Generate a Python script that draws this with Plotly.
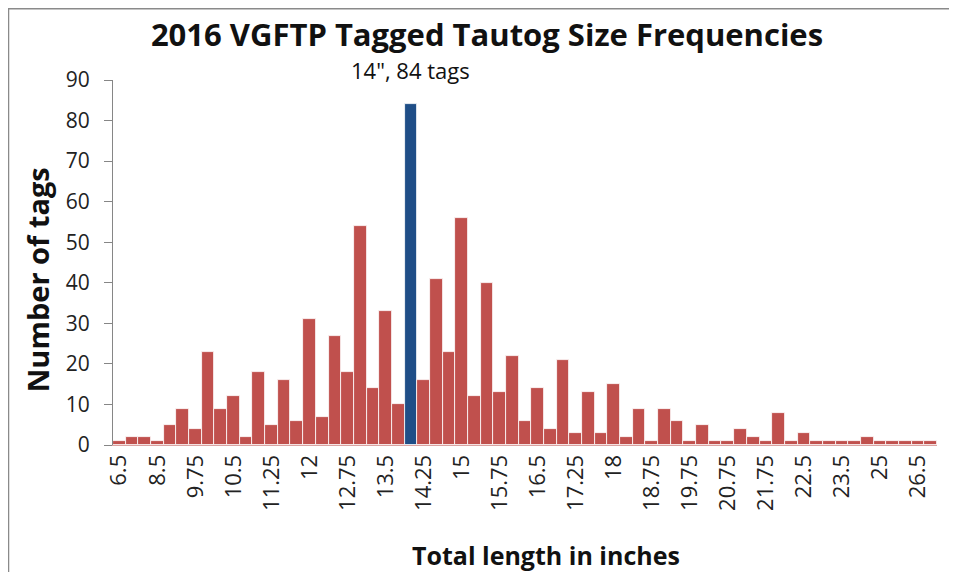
import plotly.graph_objects as go

# Size classes (inches) and tag counts
lengths = [
    "6.5", "7.5", "8", "8.5", "9", "9.5", "9.75", "10", "10.25", "10.5",
    "10.75", "11", "11.25", "11.5", "11.75", "12", "12.25", "12.5", "12.75", "13",
    "13.25", "13.5", "13.75", "14", "14.25", "14.5", "14.75", "15", "15.25", "15.5",
    "15.75", "16", "16.25", "16.5", "16.75", "17", "17.25", "17.5", "17.75", "18",
    "18.25", "18.5", "18.75", "19", "19.25", "19.75", "20", "20.5", "20.75", "21",
    "21.25", "21.75", "22", "22.25", "22.5", "23", "23.25", "23.5", "24", "24.5",
    "25", "25.5", "26", "26.5", "27",
]
tags = [
    1, 2, 2, 1, 5, 9, 4, 23, 9, 12,
    2, 18, 5, 16, 6, 31, 7, 27, 18, 54,
    14, 33, 10, 84, 16, 41, 23, 56, 12, 40,
    13, 22, 6, 14, 4, 21, 3, 13, 3, 15,
    2, 9, 1, 9, 6, 1, 5, 1, 1, 4,
    2, 1, 8, 1, 3, 1, 1, 1, 1, 2,
    1, 1, 1, 1, 1,
]
peak_length = "14"
tick_labels = lengths[::3]

FONT = "Open Sans"
RED = "#C0504D"
BLUE = "#1F4E87"

colors = [BLUE if l == peak_length else RED for l in lengths]
peak_idx = lengths.index(peak_length)
peak_value = tags[peak_idx]

# the page body adds an 8px margin, so the figure is sized to fit inside it
W, H = 941, 564

fig = go.Figure(go.Bar(
    x=lengths,
    y=tags,
    marker=dict(color=colors, line=dict(color="white", width=0.8)),
))

# Callout above the peak bar (category index, since "14" would be read as an index)
fig.add_annotation(
    x=peak_idx, y=peak_value,
    text=f'{peak_length}", {peak_value} tags',
    showarrow=False, xanchor="center", yanchor="bottom", yshift=17,
    font=dict(family=FONT, size=22, color="#111"),
)

# Axis titles placed by hand to follow the original layout
fig.add_annotation(
    x=0.5255, y=-0.301, xref="paper", yref="paper",
    xanchor="center", yanchor="middle",
    text="<b>Total length in inches</b>", showarrow=False,
    font=dict(family=FONT, size=25, color="#111"),
)
fig.add_annotation(
    x=-0.092, y=0.452, xref="paper", yref="paper",
    xanchor="center", yanchor="middle",
    text="<b>Number of tags</b>", showarrow=False, textangle=-90,
    font=dict(family=FONT, size=29, color="#111"),
)

# Outer chart frame (left and top edges; the rest runs off the picture)
fig.add_shape(
    type="path", xref="paper", yref="paper",
    path="M -0.1268,-0.45 L -0.1268,1.195 L 1.05,1.195",
    line=dict(color="#8a8a8a", width=1.5),
)

fig.update_layout(
    title=dict(
        text="<b>2016 VGFTP Tagged Tautog Size Frequencies</b>",
        x=479 / W, xref="container", xanchor="center",
        y=1 - 27 / H, yref="container", yanchor="middle",
        font=dict(family=FONT, size=31, color="#111"),
    ),
    width=W, height=H,
    margin=dict(l=105, r=12, t=72, b=127),
    bargap=0,
    showlegend=False,
    plot_bgcolor="white",
    paper_bgcolor="white",
    font=dict(family=FONT, size=20, color="#222"),
)
fig.update_xaxes(
    type="category",
    tickmode="array", tickvals=tick_labels, ticktext=tick_labels,
    tickangle=-90,
    showline=True, linecolor="#d9a3a1", linewidth=1,
    showgrid=False, ticks="",
    tickfont=dict(family=FONT, size=22, color="#222"),
)
fig.update_yaxes(
    range=[0, 90], dtick=10,
    showline=True, linecolor="#868686", linewidth=1,
    ticks="outside", ticklen=8, tickcolor="#868686",
    ticklabelstandoff=10,
    showgrid=False, zeroline=False,
    tickfont=dict(family=FONT, size=21, color="#222"),
)

fig.write_html("out.html")
